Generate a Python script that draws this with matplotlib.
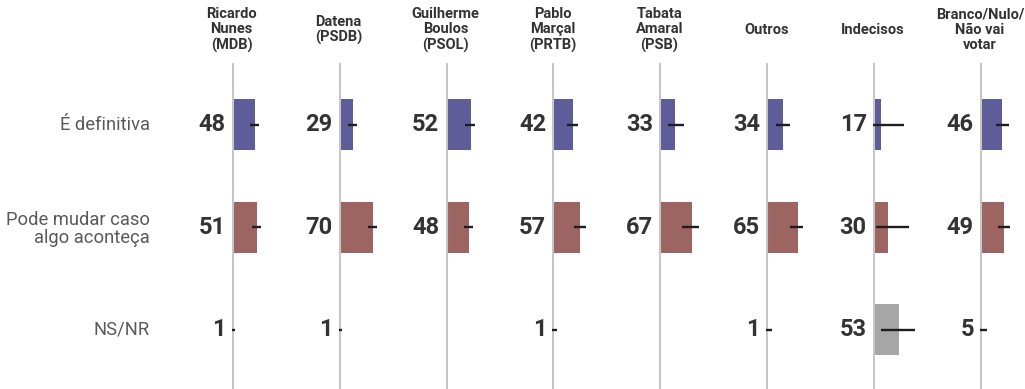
import matplotlib
matplotlib.use('Agg')
import matplotlib.pyplot as plt

# Data
candidates = ['Ricardo\nNunes\n(MDB)', 'Datena\n(PSDB)', 'Guilherme\nBoulos\n(PSOL)',
              'Pablo\nMarçal\n(PRTB)', 'Tabata\nAmaral\n(PSB)', 'Outros',
              'Indecisos', 'Branco/Nulo/\nNão vai\nvotar']
rows = ['É definitiva', 'Pode mudar caso\nalgo aconteça', 'NS/NR']

definitiva = [48, 29, 52, 42, 33, 34, 17, 46]
pode_mudar = [51, 70, 48, 57, 67, 65, 30, 49]
ns_nr = [1, 1, None, 1, None, 1, 53, 5]

# error intervals (low, high)
err_definitiva = [(38, 57), (20, 37), (40, 61), (29, 53), (18, 51), (20, 49), (0, 64), (33, 59)]
err_pode_mudar = [(41, 60), (60, 78), (38, 56), (44, 68), (47, 81), (49, 76), (5, 73), (36, 62)]
err_ns_nr = [(-2, 7), (-2, 8), None, (-2, 10), None, (-2, 11), (16, 86), (-2, 15)]

values = [definitiva, pode_mudar, ns_nr]
errors = [err_definitiva, err_pode_mudar, err_ns_nr]
colors = ['#5e5c99', '#9c6562', '#a6a6a6']

W, H = 1025, 389
plt.rcParams['font.family'] = ['Roboto', 'DejaVu Sans']

fig = plt.figure(figsize=(W / 100, H / 100), dpi=100)

line_x0 = 231.7
step = 106.9
px_per_unit = 0.487
top_px = 63
row_px = [124.7, 227, 329.5]
row_step = 102.4

for j, name in enumerate(candidates):
    lx = line_x0 + j * step
    ax = fig.add_axes([lx / W, 0, step / W, (H - top_px) / H])
    ax.set_xlim(0, step / px_per_unit)
    ax.set_ylim(2 + (H - row_px[2]) / row_step, -(row_px[0] - top_px) / row_step)
    ax.axis('off')
    ax.axvline(0, color='#c6c6c6', lw=2.2, zorder=3)
    for i in range(3):
        v = values[i][j]
        if v is None:
            continue
        ax.barh(i, v, height=0.5, left=0, color=colors[i], zorder=2)
        lo, hi = errors[i][j]
        ax.hlines(i, lo, hi, color='#1e1e1e', lw=1.7, zorder=4)
        ax.annotate(str(v), xy=(0, i), xytext=(-4.5, 0), textcoords='offset points',
                    ha='right', va='center', fontsize=17, fontweight='bold',
                    color='#333333', annotation_clip=False)
    fig.text(lx / W, 1 - 30 / H, name, ha='center', va='center', fontsize=10.5,
             fontweight='bold', color='#333333', linespacing=1.12)

for i, label in enumerate(rows):
    fig.text(150 / W, 1 - (row_px[i] + (2 if i == 1 else 0)) / H, label, ha='right',
             va='center', fontsize=13.2, color='#595959',
             multialignment='right', linespacing=1.0)

fig.savefig('out.png', dpi=100, facecolor='white')
